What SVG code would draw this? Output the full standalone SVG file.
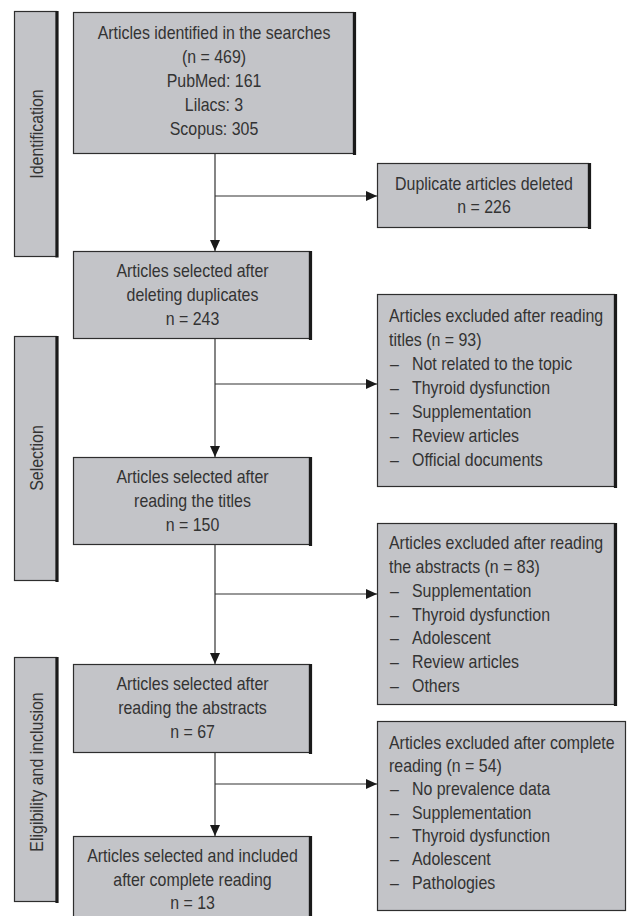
<svg xmlns="http://www.w3.org/2000/svg" width="628" height="916" viewBox="0 0 628 916">
<defs>
<style>
.bg{fill:#fff}
.box{fill:#c3c4c8;stroke:#2e2e2e;stroke-width:1.2}
.sh{stroke:#1a1a1a;stroke-width:3.2;fill:none}
.t{font-family:"Liberation Sans",Arial,sans-serif;font-size:18px;fill:#333}
.c{text-anchor:middle}
.ln{stroke:#333;stroke-width:1.2;fill:none}
</style>
<marker id="ah" markerUnits="userSpaceOnUse" markerWidth="11" markerHeight="10" refX="11" refY="5" orient="auto">
<path d="M0,0 L11,5 L0,10 z" fill="#1a1a1a"/>
</marker>
</defs>
<rect class="bg" x="0" y="0" width="628" height="916"/>

<g id="connectors">
<line class="ln" x1="215" y1="154" x2="215" y2="251" marker-end="url(#ah)"/>
<line class="ln" x1="215" y1="196" x2="377" y2="196" marker-end="url(#ah)"/>
<line class="ln" x1="215" y1="339" x2="215" y2="457" marker-end="url(#ah)"/>
<line class="ln" x1="215" y1="384" x2="377" y2="384" marker-end="url(#ah)"/>
<line class="ln" x1="215" y1="545" x2="215" y2="664" marker-end="url(#ah)"/>
<line class="ln" x1="215" y1="594" x2="377" y2="594" marker-end="url(#ah)"/>
<line class="ln" x1="215" y1="753" x2="215" y2="836" marker-end="url(#ah)"/>
<line class="ln" x1="215" y1="784" x2="377" y2="784" marker-end="url(#ah)"/>
</g>

<g id="stage-identification">
<rect class="box" x="14.5" y="11.5" width="42" height="245"/>
<line class="sh" x1="57" y1="11" x2="57" y2="257.5"/>
<text class="t c" transform="translate(43,134) rotate(-90) scale(0.885,1)">Identification</text>
</g>
<g id="stage-selection">
<rect class="box" x="14.5" y="336.5" width="42" height="244"/>
<line class="sh" x1="57" y1="336" x2="57" y2="582"/>
<text class="t c" transform="translate(43,458) rotate(-90) scale(0.885,1)">Selection</text>
</g>
<g id="stage-eligibility">
<rect class="box" x="14.5" y="657.5" width="42" height="244"/>
<line class="sh" x1="57" y1="657" x2="57" y2="903"/>
<text class="t c" transform="translate(43,772) rotate(-90) scale(0.885,1)">Eligibility and inclusion</text>
</g>

<g id="identified">
<rect class="box" x="73.5" y="12.5" width="280" height="141"/>
<line class="sh" x1="354.5" y1="12" x2="354.5" y2="155"/>
<text class="t c" transform="translate(214,38.5) scale(0.885,1)">Articles identified in the searches</text>
<text class="t c" transform="translate(214,62.5) scale(0.885,1)">(n = 469)</text>
<text class="t c" transform="translate(214,86.5) scale(0.885,1)">PubMed: 161</text>
<text class="t c" transform="translate(214,110.5) scale(0.885,1)">Lilacs: 3</text>
<text class="t c" transform="translate(214,134.5) scale(0.885,1)">Scopus: 305</text>
</g>

<g id="duplicates">
<rect class="box" x="377.5" y="163.5" width="211" height="64"/>
<line class="sh" x1="589.5" y1="163" x2="589.5" y2="229"/>
<text class="t c" transform="translate(484,189.5) scale(0.885,1)">Duplicate articles deleted</text>
<text class="t c" transform="translate(484,213) scale(0.885,1)">n = 226</text>
</g>

<g id="after-duplicates">
<rect class="box" x="73.5" y="251.5" width="236" height="87"/>
<line class="sh" x1="310.5" y1="251" x2="310.5" y2="340"/>
<text class="t c" transform="translate(192.5,277) scale(0.885,1)">Articles selected after</text>
<text class="t c" transform="translate(192.5,301) scale(0.885,1)">deleting duplicates</text>
<text class="t c" transform="translate(192.5,325) scale(0.885,1)">n = 243</text>
</g>

<g id="excluded-titles">
<rect class="box" x="377.5" y="294.5" width="237" height="192"/>
<line class="sh" x1="615.5" y1="294" x2="615.5" y2="488"/>
<text class="t" transform="translate(389,322) scale(0.885,1)">Articles excluded after reading</text>
<text class="t" transform="translate(389,346) scale(0.885,1)">titles (n = 93)</text>
<text class="t" transform="translate(390,370) scale(0.885,1)">–</text>
<text class="t" transform="translate(412,370) scale(0.885,1)">Not related to the topic</text>
<text class="t" transform="translate(390,394) scale(0.885,1)">–</text>
<text class="t" transform="translate(412,394) scale(0.885,1)">Thyroid dysfunction</text>
<text class="t" transform="translate(390,418) scale(0.885,1)">–</text>
<text class="t" transform="translate(412,418) scale(0.885,1)">Supplementation</text>
<text class="t" transform="translate(390,442) scale(0.885,1)">–</text>
<text class="t" transform="translate(412,442) scale(0.885,1)">Review articles</text>
<text class="t" transform="translate(390,466) scale(0.885,1)">–</text>
<text class="t" transform="translate(412,466) scale(0.885,1)">Official documents</text>
</g>

<g id="after-titles">
<rect class="box" x="73.5" y="457.5" width="236" height="87"/>
<line class="sh" x1="310.5" y1="457" x2="310.5" y2="546"/>
<text class="t c" transform="translate(192.5,483) scale(0.885,1)">Articles selected after</text>
<text class="t c" transform="translate(192.5,507) scale(0.885,1)">reading the titles</text>
<text class="t c" transform="translate(192.5,531) scale(0.885,1)">n = 150</text>
</g>

<g id="excluded-abstracts">
<rect class="box" x="377.5" y="523.5" width="237" height="181"/>
<line class="sh" x1="615.5" y1="523" x2="615.5" y2="706"/>
<text class="t" transform="translate(389,549) scale(0.885,1)">Articles excluded after reading</text>
<text class="t" transform="translate(389,573) scale(0.885,1)">the abstracts (n = 83)</text>
<text class="t" transform="translate(390,597) scale(0.885,1)">–</text>
<text class="t" transform="translate(412,597) scale(0.885,1)">Supplementation</text>
<text class="t" transform="translate(390,620.5) scale(0.885,1)">–</text>
<text class="t" transform="translate(412,620.5) scale(0.885,1)">Thyroid dysfunction</text>
<text class="t" transform="translate(390,644) scale(0.885,1)">–</text>
<text class="t" transform="translate(412,644) scale(0.885,1)">Adolescent</text>
<text class="t" transform="translate(390,668) scale(0.885,1)">–</text>
<text class="t" transform="translate(412,668) scale(0.885,1)">Review articles</text>
<text class="t" transform="translate(390,692) scale(0.885,1)">–</text>
<text class="t" transform="translate(412,692) scale(0.885,1)">Others</text>
</g>

<g id="after-abstracts">
<rect class="box" x="73.5" y="664.5" width="236" height="88"/>
<line class="sh" x1="310.5" y1="664" x2="310.5" y2="754"/>
<text class="t c" transform="translate(192.5,690) scale(0.885,1)">Articles selected after</text>
<text class="t c" transform="translate(192.5,714) scale(0.885,1)">reading the abstracts</text>
<text class="t c" transform="translate(192.5,738) scale(0.885,1)">n = 67</text>
</g>

<g id="excluded-complete">
<rect class="box" x="377.5" y="721.5" width="248" height="189"/>
<text class="t" transform="translate(389,748.5) scale(0.885,1)">Articles excluded after complete</text>
<text class="t" transform="translate(389,772) scale(0.885,1)">reading (n = 54)</text>
<text class="t" transform="translate(390,795) scale(0.885,1)">–</text>
<text class="t" transform="translate(412,795) scale(0.885,1)">No prevalence data</text>
<text class="t" transform="translate(390,818.5) scale(0.885,1)">–</text>
<text class="t" transform="translate(412,818.5) scale(0.885,1)">Supplementation</text>
<text class="t" transform="translate(390,842) scale(0.885,1)">–</text>
<text class="t" transform="translate(412,842) scale(0.885,1)">Thyroid dysfunction</text>
<text class="t" transform="translate(390,865) scale(0.885,1)">–</text>
<text class="t" transform="translate(412,865) scale(0.885,1)">Adolescent</text>
<text class="t" transform="translate(390,888.5) scale(0.885,1)">–</text>
<text class="t" transform="translate(412,888.5) scale(0.885,1)">Pathologies</text>
</g>

<g id="included">
<rect class="box" x="73.5" y="836.5" width="236" height="84"/>
<line class="sh" x1="310.5" y1="836" x2="310.5" y2="920"/>
<text class="t c" transform="translate(192.5,862) scale(0.885,1)">Articles selected and included</text>
<text class="t c" transform="translate(192.5,886) scale(0.885,1)">after complete reading</text>
<text class="t c" transform="translate(192.5,909) scale(0.885,1)">n = 13</text>
</g>
</svg>
